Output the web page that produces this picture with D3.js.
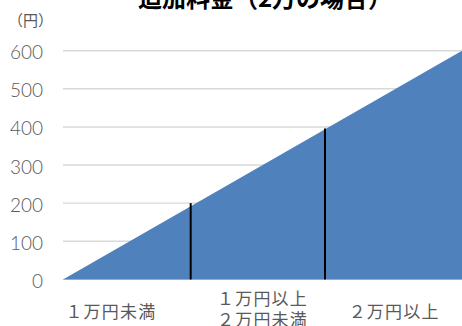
<!DOCTYPE html>
<html lang="ja">
<head>
<meta charset="utf-8">
<script src="https://cdn.jsdelivr.net/npm/d3@7"></script>
<style>
  html, body { margin: 0; padding: 0; background: #fff; }
  svg { display: block; }
</style>
</head>
<body>
<svg id="chart" width="462" height="326"></svg>
<script>
// 送金額（円）と手数料（円）
const amounts = [0, 30000];
const fees = [0, 600];

// 区分の境界線（送金額と線の高さ）
const dividerAmounts = [9600, 19700];
const dividerFees = [200, 396];

// 区分ラベル（各区分の中心となる送金額）
const categories = [["１万円未満"], ["１万円以上", "２万円未満"], ["２万円以上"]];
const categoryAmounts = [3600, 15000, 24900];

const yTicks = [0, 100, 200, 300, 400, 500, 600];
const title = "追加料金（2万の場合）";
const unitLabel = "（円）";

const svg = d3.select("#chart");
const margin = { left: 63, right: 0, top: 50.7, bottom: 326 - 279.4 };
const W = 462, H = 326;

const x = d3.scaleLinear().domain([0, 30000]).range([margin.left, W - margin.right]);
const y = d3.scaleLinear().domain([0, 600]).range([H - margin.bottom, margin.top]);

const cjk = "'Noto Sans CJK JP', 'Noto Sans', sans-serif";

// 目盛線
svg.append("g")
  .selectAll("line")
  .data(yTicks)
  .join("line")
  .attr("x1", x.range()[0])
  .attr("x2", x.range()[1])
  .attr("y1", d => y(d))
  .attr("y2", d => y(d))
  .attr("stroke", "#d9d9d9")
  .attr("stroke-width", 1.4);

// Y軸ラベル
const yAxis = d3.axisLeft(y).tickValues(yTicks).tickSize(0).tickPadding(20);
const gy = svg.append("g")
  .attr("transform", `translate(${margin.left},0)`)
  .call(yAxis);
gy.select(".domain").remove();
gy.selectAll("text")
  .attr("fill", "#595959")
  .attr("font-family", "Lato, 'Open Sans', sans-serif")
  .attr("font-weight", 300)
  .attr("font-size", 19)
  .attr("dy", "0.42em");

// 手数料の面
const pts = amounts.map((a, i) => [a, fees[i]]);
const area = d3.area()
  .x(d => x(d[0]))
  .y0(y(0))
  .y1(d => y(d[1]));
svg.append("path")
  .datum(pts)
  .attr("d", area)
  .attr("fill", "#4f81bd");

// 区分の境界線
svg.append("g")
  .selectAll("line")
  .data(dividerAmounts.map((a, i) => [a, dividerFees[i]]))
  .join("line")
  .attr("x1", d => x(d[0]))
  .attr("x2", d => x(d[0]))
  .attr("y1", y(0))
  .attr("y2", d => y(d[1]))
  .attr("stroke", "#000")
  .attr("stroke-width", 2);

// 区分ラベル
const cat = svg.append("g")
  .selectAll("text")
  .data(categories.map((c, i) => ({ lines: c, a: categoryAmounts[i] })))
  .join("text")
  .attr("text-anchor", "middle")
  .attr("font-family", cjk)
  .attr("font-size", 17)
  .attr("letter-spacing", 1.2)
  .attr("fill", "#595959")
  .attr("transform", d => `translate(${x(d.a)},${d.lines.length > 1 ? 305 : 318})`);
cat.selectAll("tspan")
  .data(d => d.lines)
  .join("tspan")
  .attr("x", 0)
  .attr("dy", (d, i) => i === 0 ? 0 : 21)
  .text(d => d);

// 単位
svg.append("text")
  .attr("x", 8)
  .attr("y", 26)
  .attr("font-family", cjk)
  .attr("font-size", 15)
  .attr("fill", "#595959")
  .text(unitLabel);

// タイトル
svg.append("text")
  .attr("x", 265)
  .attr("y", 7)
  .attr("text-anchor", "middle")
  .attr("font-family", cjk)
  .attr("font-size", 24)
  .attr("font-weight", "bold")
  .attr("fill", "#000")
  .text(title);
</script>
</body>
</html>
